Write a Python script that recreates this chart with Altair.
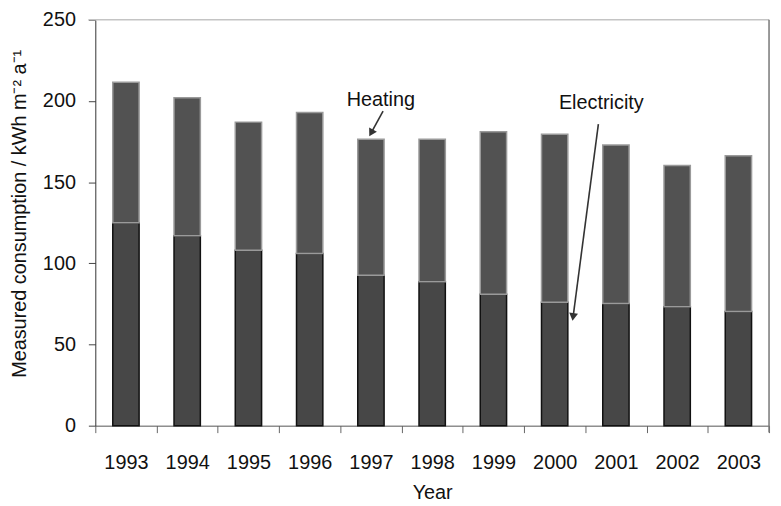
import altair as alt
import pandas as pd

years = ["1993", "1994", "1995", "1996", "1997", "1998", "1999", "2000", "2001", "2002", "2003"]
electricity = [125, 117, 108, 106, 92.7, 88.7, 81, 76, 75.3, 73.3, 70.3]
heating = [86.5, 85, 79, 87, 83.7, 87.7, 100, 103.6, 97.6, 87, 96]

FONT = "Liberation Sans"
W, H = 679, 409

df = pd.DataFrame({"year": years, "elec": electricity, "heat": heating})
df["total"] = df["elec"] + df["heat"]

xenc = alt.X("year:O", sort=years,
             scale=alt.Scale(paddingInner=0, paddingOuter=0),
             axis=alt.Axis(title="Year", labelAngle=0, tickBand="extent", tickSize=7,
                           domainColor="#555", tickColor="#666", labelColor="#111",
                           labelFont=FONT, labelFontSize=20, labelBaseline="alphabetic",
                           labelPadding=36, titleFont=FONT, titleFontSize=20,
                           titleFontWeight="normal", titleColor="#111",
                           titleBaseline="alphabetic", titleY=73))

yscale = alt.Scale(domain=[0, 250], nice=False)
yaxis = alt.Axis(title="Measured consumption / kWh m\u207b\u00b2 a\u207b\u00b9",
                 values=[0, 50, 100, 150, 200, 250], grid=False, tickSize=7,
                 domainColor="#333", tickColor="#444", labelColor="#111",
                 labelFont=FONT, labelFontSize=20, labelPadding=13,
                 titleFont=FONT, titleFontSize=20, titleFontWeight="normal",
                 titleColor="#111", titleX=-76, titleY=195, titleBaseline="middle",
                 titleAlign="center")

base = alt.Chart(df)

bottom = base.mark_bar(width=alt.RelativeBandSize(0.43), fill="#474747",
                       stroke="#111", strokeWidth=1.5).encode(
    x=xenc, y=alt.Y("elec:Q", scale=yscale, axis=yaxis))

top = base.mark_bar(width=alt.RelativeBandSize(0.43), fill="#525252",
                    stroke="#9a9a9a", strokeWidth=1.5).encode(
    x=xenc, y=alt.Y("elec:Q"), y2="total:Q")

ann = pd.DataFrame({"year": ["1997", "2000"], "label": ["Heating", "Electricity"],
                    "v": [197, 195.3]})
heat_txt = alt.Chart(ann.iloc[[0]]).mark_text(font=FONT, fontSize=20, color="#111",
                                              dx=10, baseline="alphabetic").encode(
    x=alt.X("year:O", sort=years), y=alt.Y("v:Q"), text="label:N")
elec_txt = alt.Chart(ann.iloc[[1]]).mark_text(font=FONT, fontSize=20, color="#111",
                                              dx=47, baseline="alphabetic").encode(
    x=alt.X("year:O", sort=years), y=alt.Y("v:Q"), text="label:N")

one = alt.Data(values=[{}])
arrow1 = alt.Chart(one).mark_rule(color="#333", strokeWidth=1.6).encode(
    x=alt.value(290), y=alt.value(92), x2=alt.value(278), y2=alt.value(114))
head1 = alt.Chart(one).mark_point(shape="triangle-down", size=80, filled=True,
                                  color="#333", opacity=1, angle=29).encode(
    x=alt.value(278), y=alt.value(114))
arrow2 = alt.Chart(one).mark_rule(color="#333", strokeWidth=1.6).encode(
    x=alt.value(507), y=alt.value(105), x2=alt.value(481.5), y2=alt.value(299.5))
head2 = alt.Chart(one).mark_point(shape="triangle-down", size=80, filled=True,
                                  color="#333", opacity=1, angle=8).encode(
    x=alt.value(481.5), y=alt.value(299.5))

topline = alt.Chart(one).mark_rule(color="#c4c4c4", strokeWidth=1.5).encode(
    x=alt.value(-7), x2=alt.value(W), y=alt.value(0))
rightline = alt.Chart(one).mark_rule(color="#777", strokeWidth=1.5).encode(
    x=alt.value(W), y=alt.value(0), y2=alt.value(H + 7))

chart = alt.layer(bottom, top, heat_txt, elec_txt, arrow1, head1, arrow2, head2,
                  topline, rightline).properties(
    width=W, height=H,
    padding={"left": 88, "top": 10, "right": 4, "bottom": 78},
    autosize=alt.AutoSizeParams(type="none"),
    background="white",
).configure_view(stroke=None)

chart.save("out.html", embed_options={"renderer": "svg", "actions": False})
